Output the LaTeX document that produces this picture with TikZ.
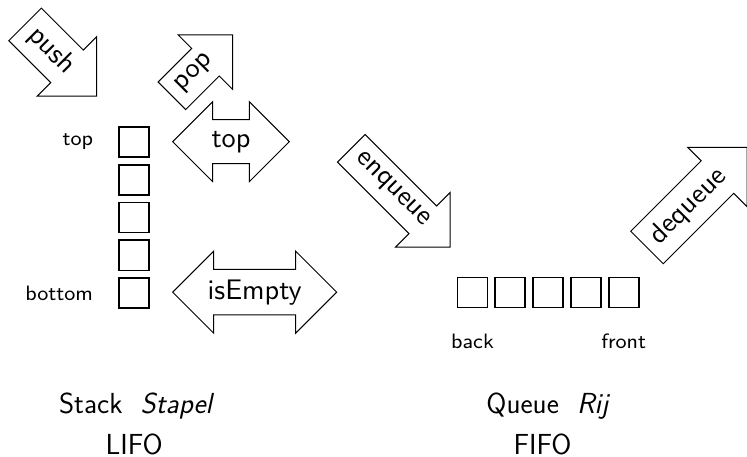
\documentclass[tikz,border=0pt]{standalone}
\begin{document}
\begin{tikzpicture}[x=1pt,y=-1pt,
  arrowline/.style={draw=black,line width=1pt,line join=miter},
  arrowtext/.style={font=\sffamily\fontsize{10}{12}\selectfont,scale=2.83,inner ysep=0pt},
  cell/.style={draw=black,line width=1.8pt,minimum size=30pt,inner sep=0pt},
  lbl/.style={font=\sffamily\fontsize{8}{10}\selectfont,scale=2.6,inner sep=0pt},
  captext/.style={font=\sffamily\fontsize{29}{34}\selectfont,inner sep=0pt},
  pics/sarrow/.style n args={4}{code={%
    \draw[arrowline] (0,{#2/2}) -- ({#1-#3/2},{#2/2}) -- ({#1-#3/2},{#3/2}) -- (#1,0)
      -- ({#1-#3/2},{-#3/2}) -- ({#1-#3/2},{-#2/2}) -- (0,{-#2/2}) -- cycle;
    \node[arrowtext,anchor=west,inner xsep=3.4pt,transform shape] (-t) at (0,0) {#4};
  }},
  pics/dbarrow/.style n args={4}{code={%
    \draw[arrowline] ({-#1/2},0) -- ({-#1/2+#3/2},{-#3/2}) -- ({-#1/2+#3/2},{-#2/2})
      -- ({#1/2-#3/2},{-#2/2}) -- ({#1/2-#3/2},{-#3/2}) -- ({#1/2},0)
      -- ({#1/2-#3/2},{#3/2}) -- ({#1/2-#3/2},{#2/2}) -- ({-#1/2+#3/2},{#2/2})
      -- ({-#1/2+#3/2},{#3/2}) -- cycle;
    \node[arrowtext,inner xsep=0pt,transform shape] (-t) at (0,0) {#4};
  }}
]
\useasboundingbox (0,0) rectangle (747,457);

% stack
\foreach \i/\y in {1/142,2/179.8,3/217.6,4/255.4,5/293.2}
  \node[cell] (s\i) at (134.2,\y) {};
\node[lbl,anchor=east] (ltop) at (93.5,142) {top};
\node[lbl,anchor=east] (lbottom) at (93.5,293.2) {bottom};

\pic[rotate=-45] (push) at (25.1,24.4) {sarrow={101.3}{46}{84}{push}};
\pic[rotate=45] (pop) at (171.9,95.8) {sarrow={86}{39}{77}{pop}};
\pic (peek) at (231,141.7) {dbarrow={116.6}{44}{80}{top}};
\pic (empty) at (254.7,292.2) {dbarrow={164}{45.5}{82}{isEmpty}};

% queue
\foreach \i/\x in {1/472.5,2/510.3,3/548.1,4/585.9,5/623.7}
  \node[cell] (q\i) at (\x,292.5) {};
\node[lbl,anchor=base] (lback) at (472.5,348.3) {back};
\node[lbl,anchor=base] (lfront) at (623.7,348.3) {front};

\pic[rotate=-45] (enq) at (351.3,148.3) {sarrow={139.6}{39}{77}{enqueue}};
\pic[rotate=45] (deq) at (647,247.5) {sarrow={141.6}{46}{84}{dequeue}};

% captions
\node[captext,anchor=base] (stack) at (136.7,413.3) {Stack\ \ \textit{Stapel}};
\node[captext,anchor=base] (lifo) at (134.2,454.5) {LIFO};
\node[captext,anchor=base] (queue) at (548.3,413.3) {Queue\ \ \textit{Rij}};
\node[captext,anchor=base] (fifo) at (542.5,454.5) {FIFO};
\end{tikzpicture}
\end{document}
